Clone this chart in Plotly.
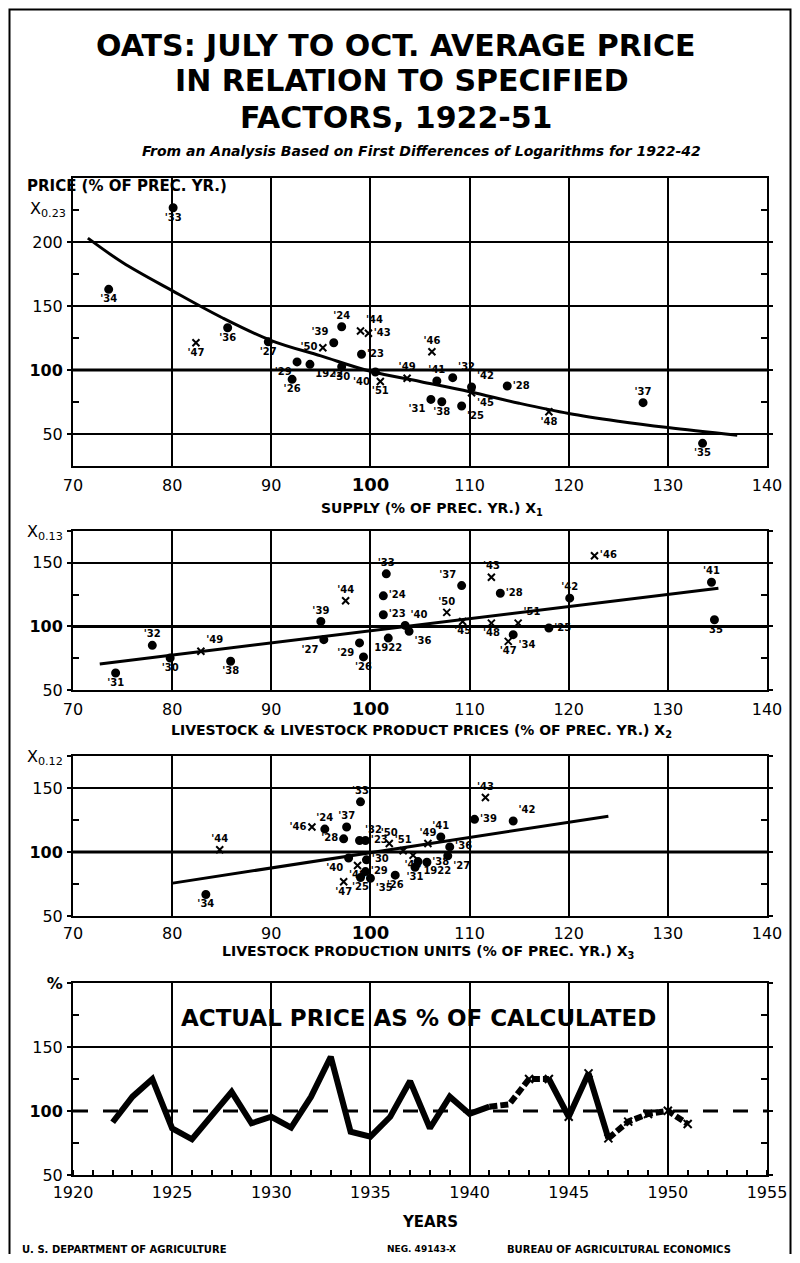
import plotly.graph_objects as go

# page body adds an 8px margin; build figure in reference pixel coordinates shifted by it
OFF = 8
W, H = 800 - 2 * OFF, 1263 - 2 * OFF

# ---------------- DATA ----------------
# Panel 1: price vs supply
p1_years = [1933, 1934, 1947, 1936, 1927, 1929, 1926, 1922, 1939, 1950, 1924, 1930, 1923, 1944, 1943,
            1940, 1951, 1949, 1946, 1941, 1932, 1942, 1945, 1931, 1938, 1925, 1928, 1948, 1937, 1935]
p1_supply = [80.1, 73.6, 82.4, 85.6, 89.7, 92.6, 92.1, 93.9, 96.3, 95.2, 97.1, 97.1, 99.1, 99.0, 99.8,
             100.5, 101.0, 103.7, 106.2, 106.7, 108.3, 110.2, 110.2, 106.1, 107.2, 109.2, 113.8, 118.0, 127.5, 133.5]
p1_price = [226.8, 163.0, 121.3, 133.0, 122.0, 106.3, 92.7, 104.4, 121.3, 117.4, 133.8, 102.6, 112.3, 130.5, 128.7,
            98.4, 91.0, 93.5, 114.3, 91.4, 94.0, 86.7, 82.2, 77.0, 75.2, 71.9, 87.5, 67.4, 74.5, 42.7]
p1_curve_x = [71.5, 75, 80, 85, 90, 95, 100, 105, 110, 115, 120, 125, 130, 137]
p1_curve_y = [203, 184, 162, 141, 123, 111, 99, 91, 83, 74, 66, 60, 55, 49]

# Panel 2: price vs livestock & livestock product prices
p2_years = [1931, 1932, 1930, 1949, 1938, 1939, 1927, 1944, 1929, 1926, 1933, 1924, 1923, 1922, 1940,
            1936, 1950, 1945, 1937, 1948, 1943, 1928, 1951, 1947, 1934, 1925, 1942, 1946, 1941, 1935]
p2_x = [74.3, 78.0, 79.8, 82.9, 85.9, 95.0, 95.3, 97.5, 98.9, 99.3, 101.6, 101.3, 101.3, 101.8, 103.5,
        103.9, 107.7, 109.3, 109.2, 112.2, 112.2, 113.1, 114.9, 113.9, 114.4, 118.0, 120.1, 122.6, 134.4, 134.7]
p2_y = [63.4, 85.1, 75.2, 80.4, 72.6, 103.9, 89.6, 120.1, 87.0, 76.0, 141.3, 124.0, 109.2, 90.8, 100.8,
        96.1, 111.0, 103.9, 132.1, 102.6, 138.6, 126.1, 102.6, 88.2, 93.5, 98.7, 122.2, 155.6, 134.7, 105.2]
p2_line_x = [72.7, 135.1]
p2_line_y = [70.5, 130.0]

# Panel 3: price vs livestock production units
p3_years = [1944, 1934, 1933, 1946, 1924, 1937, 1928, 1932, 1923, 1940, 1948, 1930, 1929, 1947, 1925,
            1935, 1926, 1950, 1951, 1949, 1941, 1936, 1927, 1938, 1922, 1945, 1931, 1939, 1943, 1942]
p3_x = [84.8, 83.4, 99.0, 94.1, 95.4, 97.6, 97.3, 98.9, 99.5, 97.8, 98.7, 99.6, 99.5, 97.3, 99.0,
        100.0, 102.5, 101.9, 103.3, 105.8, 107.1, 108.0, 107.8, 105.7, 104.8, 104.3, 104.5, 110.5, 111.6, 114.4]
p3_y = [101.8, 66.8, 139.2, 119.5, 117.9, 119.5, 110.3, 109.0, 109.0, 95.3, 89.5, 93.9, 84.7, 76.8, 80.0,
        79.5, 81.9, 106.6, 101.0, 106.6, 111.8, 104.0, 97.0, 92.0, 92.5, 97.5, 88.0, 125.5, 142.6, 124.2]
p3_line_x = [79.9, 124.0]
p3_line_y = [75.5, 128.0]

# Panel 4: actual price as % of calculated
p4_years = [1922, 1923, 1924, 1925, 1926, 1927, 1928, 1929, 1930, 1931, 1932, 1933, 1934, 1935, 1936,
            1937, 1938, 1939, 1940, 1941, 1942, 1943, 1944, 1945, 1946, 1947, 1948, 1949, 1950, 1951]
p4_ratio = [91.2, 111.2, 125.0, 86.5, 77.9, 97.0, 115.0, 90.4, 95.5, 87.0, 111.0, 142.4, 83.8, 80.0, 95.5,
            123.4, 86.5, 111.2, 97.7, 103.4, 105.2, 125.0, 125.0, 95.5, 129.4, 78.6, 91.7, 97.7, 100.2, 89.8]

pct_ticks = [70, 80, 90, 100, 110, 120, 130, 140]
year_ticks = [1920, 1925, 1930, 1935, 1940, 1945, 1950, 1955]

# ---------------- STYLE ----------------
pos1 = ["bottom center", "bottom center", "bottom center", "bottom center", "bottom center", "bottom left",
        "bottom center", "bottom right", "top left", "middle left", "top center", "bottom center", "middle right",
        "top right", "middle right", "bottom left", "bottom center", "top center", "top center", "top center",
        "top right", "top right", "bottom right", "bottom left", "bottom center", "bottom right", "middle right",
        "bottom center", "top center", "bottom center"]
pos2 = ["bottom center", "top center", "bottom center", "top right", "bottom center", "top center", "bottom left",
        "top center", "bottom left", "bottom center", "top center", "middle right", "middle right", "bottom center",
        "top right", "bottom right", "top center", "bottom center", "top left", "bottom center", "top center",
        "middle right", "top right", "bottom center", "bottom right", "middle right", "top center", "middle right",
        "top center", "bottom center"]
pos3 = ["top center", "bottom center", "top center", "middle left", "top center", "top center", "middle left",
        "top right", "middle right", "bottom left", "bottom center", "middle right", "middle right", "bottom center",
        "bottom center", "bottom right", "bottom center", "top center", "top center", "top center", "top center",
        "middle right", "bottom right", "middle right", "bottom right", "bottom center", "bottom center",
        "middle right", "top center", "top right"]

FONT = "DejaVu Sans"


def px_x(px):
    return (px - OFF) / W


def px_y(py):
    return 1 - (py - OFF) / H


XDOM = [px_x(73), px_x(767)]


def ydom(top_px, bot_px):
    return [px_y(bot_px), px_y(top_px)]


def lab(y):
    return "1922" if y == 1922 else "'" + str(y)[2:]


def sym(y):
    return "x-thin" if y >= 1943 else "circle"


fig = go.Figure()


def add_scatter(years, xs, ys, positions, xa, ya):
    fig.add_trace(go.Scatter(
        x=xs, y=ys, mode="markers+text", xaxis=xa, yaxis=ya,
        text=[lab(y) for y in years], textposition=positions,
        textfont=dict(family=FONT, size=10, color="black", weight="bold"),
        marker=dict(symbol=[sym(y) for y in years], size=7, color="black",
                    line=dict(color="black", width=2)),
        showlegend=False, cliponaxis=False, hoverinfo="skip"))


# Panel 1
fig.add_trace(go.Scatter(x=p1_curve_x, y=p1_curve_y, mode="lines", xaxis="x", yaxis="y",
                         line=dict(color="black", width=3, shape="spline"), showlegend=False))
add_scatter(p1_years, p1_supply, p1_price, pos1, "x", "y")

# Panel 2
fig.add_trace(go.Scatter(x=p2_line_x, y=p2_line_y, mode="lines", xaxis="x2", yaxis="y2",
                         line=dict(color="black", width=3), showlegend=False))
add_scatter(p2_years, p2_x, p2_y, pos2, "x2", "y2")

# Panel 3
fig.add_trace(go.Scatter(x=p3_line_x, y=p3_line_y, mode="lines", xaxis="x3", yaxis="y3",
                         line=dict(color="black", width=3), showlegend=False))
add_scatter(p3_years, p3_x, p3_y, pos3, "x3", "y3")

# Panel 4
i41 = p4_years.index(1941)
i44 = p4_years.index(1944)
i47 = p4_years.index(1947)
segs = [(0, i41 + 1, "solid"), (i41, i44 + 1, "8px,3px"), (i44, i47 + 1, "solid"), (i47, len(p4_years), "8px,3px")]
for a, b, d in segs:
    fig.add_trace(go.Scatter(x=p4_years[a:b], y=p4_ratio[a:b], mode="lines", xaxis="x4", yaxis="y4",
                             line=dict(color="black", width=6, dash=d), showlegend=False))
post = [i for i, y in enumerate(p4_years) if y >= 1943]
fig.add_trace(go.Scatter(x=[p4_years[i] for i in post], y=[p4_ratio[i] for i in post], mode="markers",
                         xaxis="x4", yaxis="y4",
                         marker=dict(symbol="x-thin", size=8, color="black", line=dict(color="black", width=2)),
                         showlegend=False))

tickfont = dict(family=FONT, size=16, color="black")
big100 = '<span style="font-size:18px"><b>100</b></span>'


def xaxis_pct(anchor, standoff=4):
    return dict(domain=XDOM, anchor=anchor, range=[70, 140], tickmode="array", tickvals=pct_ticks,
                ticktext=[big100 if v == 100 else str(v) for v in pct_ticks],
                showgrid=True, gridcolor="black", gridwidth=2, zeroline=False, automargin=False,
                showline=True, linecolor="black", linewidth=2, mirror=True, ticks="",
                tickfont=tickfont, ticklabelstandoff=standoff, fixedrange=True)


def yaxis_pct(anchor, dom, rng, vals, labels, minor_vals, grid=True):
    return dict(domain=dom, anchor=anchor, range=rng, tickmode="array", tickvals=vals, ticktext=labels,
                showgrid=grid, gridcolor="black", gridwidth=2, zeroline=False, automargin=False,
                showline=True, linecolor="black", linewidth=2,
                mirror="allticks", ticks="outside", ticklen=4, tickwidth=2, tickcolor="black",
                tickfont=tickfont, ticklabelstandoff=1,
                minor=dict(tickmode="array", tickvals=minor_vals, ticks="inside", ticklen=6,
                           tickwidth=2, tickcolor="black", showgrid=False), fixedrange=True)


y1_vals = [50, 100, 150, 200]
y1_text = ["50", "<b>100</b>", "150", "200"]
y2_vals = [50, 100, 150, 175]
y2_text = ["50", "<b>100</b>", "150", "X<sub>0.13</sub>"]
y3_text = ["50", "<b>100</b>", "150", "X<sub>0.12</sub>"]
y4_vals = [50, 100, 150, 200]
y4_text = ["50", "<b>100</b>", "150", "<b>%</b>"]

fig.update_layout(
    width=W, height=H, margin=dict(l=0, r=0, t=0, b=0, pad=0, autoexpand=False),
    paper_bgcolor="white", plot_bgcolor="white", showlegend=False,
    font=dict(family=FONT, color="black"),
    xaxis=xaxis_pct("y"),
    yaxis=yaxis_pct("x", ydom(178, 466), [25, 250], y1_vals, y1_text, [75, 125, 175, 225]),
    xaxis2=xaxis_pct("y2"),
    yaxis2=yaxis_pct("x2", ydom(531, 690), [50, 175], y2_vals, y2_text, [75, 125]),
    xaxis3=xaxis_pct("y3", standoff=2),
    yaxis3=yaxis_pct("x3", ydom(756, 916), [50, 175], y2_vals, y3_text, [75, 125]),
    xaxis4=dict(domain=XDOM, anchor="y4", range=[1920, 1955], tickmode="array", tickvals=year_ticks,
                showgrid=True, gridcolor="black", gridwidth=2, zeroline=False, automargin=False,
                showline=True, linecolor="black", linewidth=2, mirror=True, ticks="",
                tickfont=tickfont, ticklabelstandoff=2,
                minor=dict(dtick=1, tick0=1920, ticks="inside", ticklen=5, tickwidth=2, tickcolor="black",
                           showgrid=False), fixedrange=True),
    yaxis4=yaxis_pct("x4", ydom(983, 1175), [50, 200], y4_vals, y4_text, [75, 125, 175], grid=False),
)

# X-exponent label at top of panel 1 axis (tick at 225)
fig.add_annotation(text="X<sub>0.23</sub>", xref="paper", yref="y", x=px_x(73 - 5), y=225,
                   xanchor="right", yanchor="middle", showarrow=False,
                   font=dict(family=FONT, size=16, color="black"))

# thick 100 reference lines
for xr, yr in [("x", "y"), ("x2", "y2"), ("x3", "y3")]:
    fig.add_shape(type="line", xref=xr + " domain", yref=yr, x0=0, x1=1, y0=100, y1=100,
                  line=dict(color="black", width=3), layer="below")
# panel 4 grid lines: solid at 150, dashed at 100
fig.add_shape(type="line", xref="x4 domain", yref="y4", x0=0, x1=1, y0=150, y1=150,
              line=dict(color="black", width=2), layer="below")
fig.add_shape(type="line", xref="x4 domain", yref="y4", x0=0, x1=1, y0=100, y1=100,
              line=dict(color="black", width=3, dash="longdash"), layer="below")

# outer frame (left, top, right)
fig.add_shape(type="path", xref="paper", yref="paper",
              path="M {x0},{yb} L {x0},{yt} L {x1},{yt} L {x1},{yb}".format(
                  x0=px_x(9.5), x1=px_x(790.5), yt=px_y(9.5), yb=px_y(1254)),
              line=dict(color="black", width=2))


def ann(text, xpx, ypx, size, anchor="center", weight="bold", italic=False):
    t = "<i>" + text + "</i>" if italic else text
    fig.add_annotation(text=t, x=px_x(xpx), y=px_y(ypx), xref="paper", yref="paper",
                       xanchor=anchor, yanchor="middle", showarrow=False,
                       font=dict(family=FONT, size=size, color="black", weight=weight))


ann("OATS: JULY TO OCT. AVERAGE PRICE", 395, 45, 30)
ann("IN RELATION TO SPECIFIED", 402, 81, 30)
ann("FACTORS, 1922-51", 396, 117, 30)
ann("From an Analysis Based on First Differences of Logarithms for 1922-42", 421, 151, 14, italic=True)

ann("PRICE (% OF PREC. YR.)", 25, 186, 15, anchor="left")
ann("SUPPLY (% OF PREC. YR.) X<sub>1</sub>", 432, 509, 14)
ann("LIVESTOCK &amp; LIVESTOCK PRODUCT PRICES (% OF PREC. YR.) X<sub>2</sub>", 421, 731, 14)
ann("LIVESTOCK PRODUCTION UNITS (% OF PREC. YR.) X<sub>3</sub>", 428, 952, 14)
ann("ACTUAL PRICE AS % OF CALCULATED", 418, 1018, 23)
ann("YEARS", 430, 1222, 15)

ann("U. S. DEPARTMENT OF AGRICULTURE", 20, 1249, 10, anchor="left")
ann("NEG. 49143-X", 385, 1249, 9, anchor="left")
ann("BUREAU OF AGRICULTURAL ECONOMICS", 505, 1249, 10, anchor="left")

fig.write_html("out.html")
